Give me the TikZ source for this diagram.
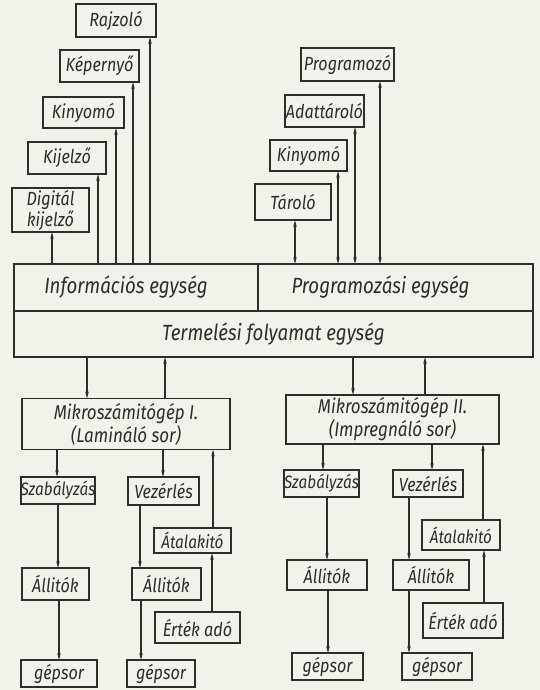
\documentclass[tikz,border=0pt]{standalone}
\usepackage{fontspec}
\setmainfont{Fira Sans}[FakeStretch=0.85]
\usepackage{tikz}
\usetikzlibrary{arrows.meta}
\definecolor{papier}{RGB}{241,243,234}
\definecolor{tinta}{RGB}{45,45,45}
\tikzstyle{blk} = [draw=tinta,line width=1.8pt,inner sep=0pt,outer sep=0pt,
    text=tinta,font=\fontsize{19}{21}\selectfont\itshape,align=center]
\tikzstyle{szuk} = [font=\fontsize{18}{21}\selectfont\itshape]
\tikzstyle{tag} = [font=\fontsize{20}{23}\selectfont\itshape]
\tikzstyle{egys} = [blk,font=\fontsize{22}{24}\selectfont\itshape]
\tikzstyle{vonal} = [draw=tinta,line width=1.1pt,-{Stealth[length=7pt,width=3.5pt]}]
\tikzstyle{kettos} = [vonal,{Stealth[length=7pt,width=3.5pt]}-{Stealth[length=7pt,width=3.5pt]}]
\newcommand{\doboz}[7][]{
    \node(#2) [blk,#1,minimum width=#5pt,minimum height=#6pt] at (#3,#4) {#7};
}

\begin{document}
\begin{tikzpicture}[x=1pt,y=-1pt]
	\fill[papier] (0,0) rectangle (540,690);
	\useasboundingbox (0,0) rectangle (540,690);

	% kozponti egysegek
	\node(info) [egys,minimum width=244pt,minimum height=47pt] at (136,287.5) {Információs egység\hspace*{20pt}};
	\node(prog) [egys,minimum width=275pt,minimum height=47pt] at (395.5,287.5) {Programozási egység\hspace*{30pt}};
	\node(term) [egys,minimum width=519pt,minimum height=46pt] at (273.5,334) {Termelési folyamat egység};

	% kimeneti eszkozok
	\doboz{raj}{116}{20.5}{80}{33}{Rajzoló}
	\doboz{kep}{99.5}{66}{79}{32}{Képernyő}
	\doboz{kiny1}{83.5}{112.5}{81}{31}{Kinyomó}
	\doboz{kij}{67}{158}{78}{32}{Kijelző}
	\doboz{dig}{50.5}{210}{77}{44}{Digitál\\kijelző}

	\doboz{prgz}{347.5}{64.5}{93}{33}{Programozó}
	\doboz{adat}{324.5}{111}{79}{32}{Adattároló}
	\doboz{kiny2}{308.5}{155.5}{77}{31}{Kinyomó}
	\doboz{tar}{293}{202}{76}{36}{Tároló}

	\draw[vonal] (info.north -| 52,0) -- (dig.south -| 52,0);
	\draw[vonal] (info.north -| 98,0) -- (kij.south -| 98,0);
	\draw[vonal] (info.north -| 116,0) -- (kiny1.south -| 116,0);
	\draw[vonal] (info.north -| 133,0) -- (kep.south -| 133,0);
	\draw[vonal] (info.north -| 150,0) -- (raj.south -| 150,0);

	\draw[kettos] (prog.north -| 295,0) -- (tar.south -| 295,0);
	\draw[kettos] (prog.north -| 338,0) -- (kiny2.south -| 338,0);
	\draw[kettos] (prog.north -| 355,0) -- (adat.south -| 355,0);
	\draw[kettos] (prog.north -| 380,0) -- (prgz.south -| 380,0);

	% mikroszamitogepek
	\doboz[tag]{mik1}{126}{424}{208}{51}{Mikroszámitógép I.\\(Lamináló sor)}
	\doboz[tag]{mik2}{392.5}{419.5}{213}{49}{Mikroszámitógép II.\\(Impregnáló sor)}

	\draw[vonal] (term.south -| 87,0) -- (mik1.north -| 87,0);
	\draw[vonal] (mik1.north -| 165,0) -- (term.south -| 165,0);
	\draw[vonal] (term.south -| 353,0) -- (mik2.north -| 353,0);
	\draw[vonal] (mik2.north -| 425,0) -- (term.south -| 425,0);

	% laminalo sor
	\doboz[szuk]{szab1}{58}{490.5}{72}{27}{Szabályzás}
	\doboz{vez1}{163.5}{491}{71}{28}{Vezérlés}
	\doboz[szuk]{atal1}{192.5}{540.5}{77}{25}{Átalakitó}
	\doboz{all1a}{55.5}{584}{67}{32}{Állitók}
	\doboz{all1b}{166.5}{584}{69}{32}{Állitók}
	\doboz{ert1}{197.5}{627.5}{85}{31}{Érték adó}
	\doboz{gep1a}{59}{673.5}{76}{27}{gépsor}
	\doboz{gep1b}{161}{673.5}{68}{27}{gépsor}

	\draw[vonal] (mik1.south -| 57,0) -- (szab1.north -| 57,0);
	\draw[vonal] (mik1.south -| 163,0) -- (vez1.north -| 163,0);
	\draw[vonal] (atal1.north -| 213,0) -- (mik1.south -| 213,0);
	\draw[vonal] (ert1.north -| 212,0) -- (atal1.south -| 212,0);
	\draw[vonal] (szab1.south -| 58,0) -- (all1a.north -| 58,0);
	\draw[vonal] (all1a.south -| 59,0) -- (gep1a.north -| 59,0);
	\draw[vonal] (vez1.south -| 140,0) -- (all1b.north -| 140,0);
	\draw[vonal] (all1b.south -| 141,0) -- (gep1b.north -| 141,0);

	% impregnalo sor
	\doboz[szuk]{szab2}{321.5}{483.5}{73}{27}{Szabályzás}
	\doboz{vez2}{428}{483.5}{70}{27}{Vezérlés}
	\doboz[szuk]{atal2}{461}{535}{78}{30}{Átalakitó}
	\doboz{all2a}{327}{575}{80}{30}{Állitók}
	\doboz{all2b}{431}{575}{76}{30}{Állitók}
	\doboz{ert2}{463}{620.5}{80}{35}{Érték adó}
	\doboz{gep2a}{327.5}{666.5}{71}{27}{gépsor}
	\doboz{gep2b}{437}{666.5}{70}{27}{gépsor}

	\draw[vonal] (mik2.south -| 323,0) -- (szab2.north -| 323,0);
	\draw[vonal] (mik2.south -| 432,0) -- (vez2.north -| 432,0);
	\draw[vonal] (atal2.north -| 483,0) -- (mik2.south -| 483,0);
	\draw[vonal] (ert2.north -| 484,0) -- (atal2.south -| 484,0);
	\draw[vonal] (szab2.south -| 327,0) -- (all2a.north -| 327,0);
	\draw[vonal] (all2a.south -| 328,0) -- (gep2a.north -| 328,0);
	\draw[vonal] (vez2.south -| 409,0) -- (all2b.north -| 409,0);
	\draw[vonal] (all2b.south -| 409,0) -- (gep2b.north -| 409,0);
\end{tikzpicture}
\end{document}
